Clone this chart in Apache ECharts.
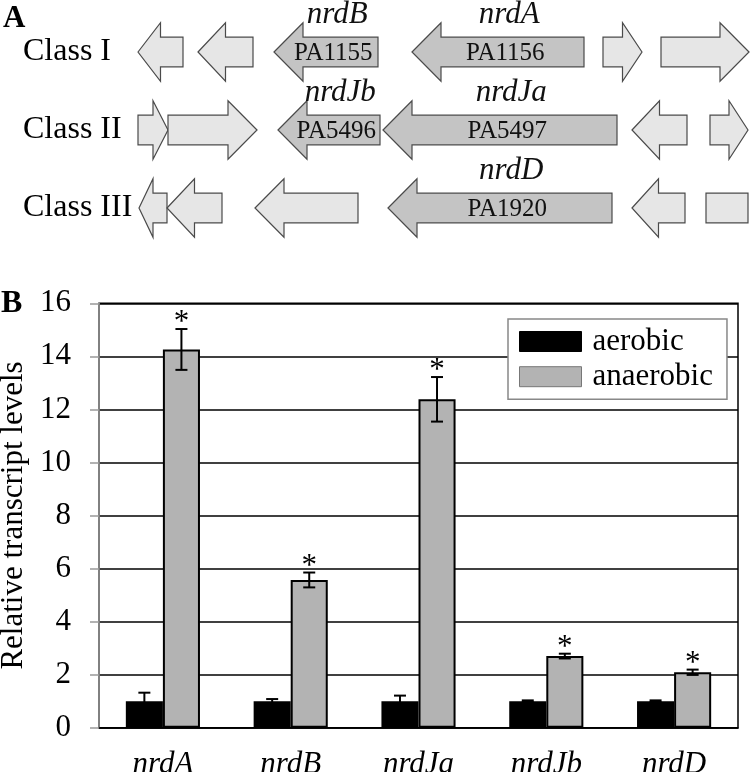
<!DOCTYPE html>
<html>
<head>
<meta charset="utf-8">
<script src="https://cdn.jsdelivr.net/npm/echarts@6/dist/echarts.min.js"></script>
<style>html,body{margin:0;padding:0;background:#fff}#c{width:750px;height:772px}</style>
</head>
<body>
<div id="c"></div>
<script>
// ---- Panel A data ----
var classRows = ['Class I', 'Class II', 'Class III'];
// [left, right, row, direction(-1 left, 1 right, 0 box), dark(1)/light(0), gene name, locus tag]
var genesClassI = [
  [138, 183, 0, -1, 0, '', ''],
  [198, 253, 0, -1, 0, '', ''],
  [274, 378, 0, -1, 1, 'nrdB', 'PA1155'],
  [412, 584, 0, -1, 1, 'nrdA', 'PA1156'],
  [603, 642, 0, 1, 0, '', ''],
  [661, 749, 0, 1, 0, '', '']
];
var genesClassII = [
  [138, 168, 1, 1, 0, '', ''],
  [168, 257, 1, 1, 0, '', ''],
  [278, 380, 1, -1, 1, 'nrdJb', 'PA5496'],
  [383, 617, 1, -1, 1, 'nrdJa', 'PA5497'],
  [632, 687, 1, -1, 0, '', ''],
  [710, 748, 1, 1, 0, '', '']
];
var genesClassIII = [
  [139, 167, 2, -1, 0, '', ''],
  [167, 222, 2, -1, 0, '', ''],
  [255, 358, 2, -1, 0, '', ''],
  [388, 612, 2, -1, 1, 'nrdD', 'PA1920'],
  [632, 685, 2, -1, 0, '', ''],
  [706, 748, 2, 0, 0, '', '']
];

// ---- Panel B data ----
var genes = ['nrdA', 'nrdB', 'nrdJa', 'nrdJb', 'nrdD'];
var aerobic = [1.0, 1.0, 1.0, 1.0, 1.0];
var aerobicErr = [0.32, 0.08, 0.21, 0.03, 0.03];
var anaerobic = [14.26, 5.57, 12.38, 2.70, 2.09];
var anaerobicErr = [0.77, 0.28, 0.84, 0.09, 0.10];
var significant = [1, 1, 1, 1, 1];
var yTicks = { min: 0, max: 16, interval: 2 };

var SERIF = '"Liberation Serif", "Times New Roman", serif';

var geneData = genesClassI.concat(genesClassII, genesClassIII);

var errData = [];
for (var i = 0; i < genes.length; i++) {
  errData.push([i, 0, aerobic[i], aerobicErr[i], 0]);
  errData.push([i, 1, anaerobic[i], anaerobicErr[i], significant[i]]);
}

function renderGene(params, api) {
  var l = api.value(0), r = api.value(1), row = api.value(2);
  var dir = api.value(3), dark = api.value(4);
  var name = geneData[params.dataIndex][5], tag = geneData[params.dataIndex][6];
  var p0 = api.coord([l, row]);
  var p1 = api.coord([r, row]);
  var band = api.size([0, 1])[1];
  var cy = p0[1];
  var hh = band * 0.375, bh = band * 0.19;
  var x0 = p0[0], x1 = p1[0];
  var len = x1 - x0;
  var head = Math.min(29, len / 2);
  var pts;
  if (dir < 0) {
    pts = [[x0, cy], [x0 + head, cy - hh], [x0 + head, cy - bh], [x1, cy - bh], [x1, cy + bh], [x0 + head, cy + bh], [x0 + head, cy + hh]];
  } else if (dir > 0) {
    pts = [[x1, cy], [x1 - head, cy - hh], [x1 - head, cy - bh], [x0, cy - bh], [x0, cy + bh], [x1 - head, cy + bh], [x1 - head, cy + hh]];
  } else {
    pts = [[x0, cy - bh], [x1, cy - bh], [x1, cy + bh], [x0, cy + bh]];
  }
  var children = [{
    type: 'polygon',
    shape: { points: pts },
    style: { fill: dark ? '#c4c4c4' : '#e6e6e6', stroke: '#4a4a4a', lineWidth: 1.2 }
  }];
  if (tag) {
    var tx = dir < 0 ? (x0 + head / 2 + x1) / 2 : (x0 + x1 - head / 2) / 2;
    children.push({
      type: 'text',
      style: { text: tag, x: tx, y: cy + 1, align: 'center', verticalAlign: 'middle', font: '25px ' + SERIF, fill: '#111' }
    });
    children.push({
      type: 'text',
      style: { text: name, x: tx + 4, y: cy - 37, align: 'center', verticalAlign: 'middle', font: 'italic 31px ' + SERIF, fill: '#111' }
    });
  }
  return { type: 'group', children: children };
}

function renderErr(params, api) {
  var cat = api.value(0), s = api.value(1), v = api.value(2), e = api.value(3), star = api.value(4);
  var catW = api.size([1, 0])[0];
  var off = (s === 0 ? -1 : 1) * 0.145 * catW;
  var top = api.coord([cat, v + e]);
  var bot = api.coord([cat, v - e]);
  var x = top[0] + off;
  var cap = 6;
  var st = { stroke: '#000', lineWidth: 2 };
  var children = [
    { type: 'line', shape: { x1: x, y1: top[1], x2: x, y2: bot[1] }, style: st },
    { type: 'line', shape: { x1: x - cap, y1: top[1], x2: x + cap, y2: top[1] }, style: st },
    { type: 'line', shape: { x1: x - cap, y1: bot[1], x2: x + cap, y2: bot[1] }, style: st }
  ];
  if (star) {
    children.push({
      type: 'text',
      style: { text: '*', x: x, y: top[1] - 6, align: 'center', verticalAlign: 'middle', font: '31px ' + SERIF, fill: '#000' }
    });
  }
  return { type: 'group', children: children };
}

var chart = echarts.init(document.getElementById('c'));
chart.setOption({
  backgroundColor: '#fff',
  animation: false,
  textStyle: { fontFamily: SERIF },
  graphic: [
    { type: 'text', left: 3, top: 3, style: { text: 'A', font: 'bold 31px ' + SERIF, fill: '#000' } },
    { type: 'text', left: 1, top: 288, style: { text: 'B', font: 'bold 32px ' + SERIF, fill: '#000' } }
  ],
  legend: {
    data: [
      { name: 'aerobic', itemStyle: { color: '#000', borderColor: '#000', borderWidth: 1 } },
      { name: 'anaerobic', itemStyle: { color: '#b3b3b3', borderColor: '#777', borderWidth: 1 } }
    ],
    orient: 'vertical',
    left: 508, top: 319,
    padding: [7, 14, 7, 11],
    itemWidth: 62, itemHeight: 20, itemGap: 4.2,
    icon: 'rect',
    borderColor: '#888', borderWidth: 1.5, backgroundColor: '#fff',
    textStyle: { fontSize: 31, fontFamily: SERIF, color: '#000', lineHeight: 22, padding: [0, 0, 0, 6] }
  },
  grid: [
    { left: 0, right: 0, top: 13, height: 234, outerBoundsMode: 'none', containLabel: false },
    { left: 99, right: 12, top: 303.3, bottom: 44.3, show: true, borderColor: '#000', borderWidth: 1.5, outerBoundsMode: 'none', containLabel: false }
  ],
  xAxis: [
    { gridIndex: 0, type: 'value', min: 0, max: 750, show: false },
    {
      gridIndex: 1, type: 'category', data: genes,
      axisLine: { show: true, lineStyle: { color: '#000', width: 1.5 } },
      axisTick: { show: false },
      axisLabel: { fontSize: 31, fontStyle: 'italic', fontFamily: SERIF, color: '#000', margin: 22 }
    }
  ],
  yAxis: [
    {
      gridIndex: 0, type: 'category', data: classRows, inverse: true,
      axisLine: { show: false }, axisTick: { show: false }, splitLine: { show: false },
      axisLabel: { inside: true, align: 'left', margin: 23, fontSize: 32, fontFamily: SERIF, color: '#000' }
    },
    {
      gridIndex: 1, type: 'value', min: yTicks.min, max: yTicks.max, interval: yTicks.interval,
      name: 'Relative transcript levels', nameLocation: 'middle', nameGap: 60,
      nameTextStyle: { fontSize: 31, fontFamily: SERIF, color: '#000' },
      axisLine: { show: true, lineStyle: { color: '#999', width: 1.5 } },
      axisTick: { show: true, length: 9, lineStyle: { color: '#999', width: 1.5 } },
      splitLine: { show: true, lineStyle: { color: '#000', width: 1.5 } },
      axisLabel: { fontSize: 31, fontFamily: SERIF, color: '#000', margin: 28 }
    }
  ],
  series: [
    { type: 'custom', xAxisIndex: 0, yAxisIndex: 0, renderItem: renderGene, data: geneData.map(function (g) { return [g[0], g[1], g[2], g[3], g[4]]; }), silent: true },
    {
      name: 'aerobic', type: 'bar', xAxisIndex: 1, yAxisIndex: 1, data: aerobic,
      barWidth: '29%', barGap: '0%',
      itemStyle: { color: '#000', borderColor: '#000', borderWidth: 2 }
    },
    {
      name: 'anaerobic', type: 'bar', xAxisIndex: 1, yAxisIndex: 1, data: anaerobic,
      barWidth: '29%', barGap: '0%',
      itemStyle: { color: '#b3b3b3', borderColor: '#000', borderWidth: 2 }
    },
    { type: 'custom', xAxisIndex: 1, yAxisIndex: 1, renderItem: renderErr, data: errData, z: 5, silent: true }
  ]
});
</script>
</body>
</html>
